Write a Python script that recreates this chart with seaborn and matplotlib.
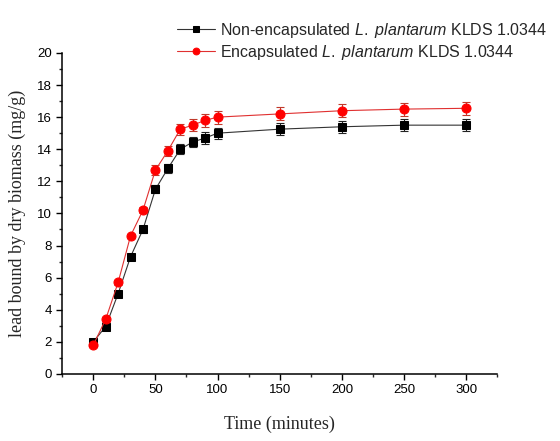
import pandas as pd
import matplotlib
matplotlib.use("Agg")
import matplotlib.pyplot as plt
from matplotlib.ticker import MultipleLocator
import seaborn as sns

# Données
time_min = [0, 10, 20, 30, 40, 50, 60, 70, 80, 90, 100, 150, 200, 250, 300]
non_encap = [2.0, 2.95, 5.0, 7.3, 9.0, 11.5, 12.8, 14.0, 14.45, 14.7, 15.0, 15.25, 15.4, 15.5, 15.5]
non_encap_err = [0.1, 0.1, 0.15, 0.15, 0.2, 0.25, 0.3, 0.3, 0.3, 0.35, 0.35, 0.37, 0.38, 0.38, 0.38]
encap = [1.8, 3.4, 5.7, 8.6, 10.2, 12.7, 13.9, 15.25, 15.5, 15.8, 16.0, 16.2, 16.4, 16.5, 16.55]
encap_err = [0.1, 0.15, 0.15, 0.15, 0.2, 0.3, 0.3, 0.35, 0.38, 0.4, 0.4, 0.4, 0.4, 0.4, 0.42]

label_non = r"Non-encapsulated $\it{L.\ plantarum}$ KLDS 1.0344"
label_enc = r"Encapsulated $\it{L.\ plantarum}$ KLDS 1.0344"

sns.set_style("ticks")
plt.rcParams["font.family"] = ["Liberation Sans", "DejaVu Sans"]
plt.rcParams["mathtext.fontset"] = "custom"
plt.rcParams["mathtext.rm"] = "Liberation Sans"
plt.rcParams["mathtext.it"] = "Liberation Sans:italic"

fig = plt.figure(figsize=(5.6, 4.41), dpi=100)
ax = fig.add_axes([0.111, 0.152, 0.777, 0.728])

df = pd.DataFrame({"time": time_min, "non": non_encap, "enc": encap})

ax.errorbar(time_min, non_encap, yerr=non_encap_err, fmt="none", ecolor="#222222",
            elinewidth=0.8, capsize=3, capthick=0.8, zorder=2)
ax.errorbar(time_min, encap, yerr=encap_err, fmt="none", ecolor="#c0392b",
            elinewidth=0.8, capsize=3, capthick=0.8, zorder=2)

sns.lineplot(data=df, x="time", y="non", ax=ax, color="#333333", linewidth=0.8,
             marker="s", markersize=5.5, markerfacecolor="black", markeredgecolor="black",
             label=label_non, zorder=3)
sns.lineplot(data=df, x="time", y="enc", ax=ax, color="#e03030", linewidth=0.8,
             marker="o", markersize=6.5, markerfacecolor="#ff0000", markeredgecolor="#ff0000",
             label=label_enc, zorder=4)

ax.set_xlim(-25, 325)
ax.set_ylim(0, 20)
ax.xaxis.set_major_locator(MultipleLocator(50))
ax.xaxis.set_minor_locator(MultipleLocator(25))
ax.yaxis.set_major_locator(MultipleLocator(2))
ax.yaxis.set_minor_locator(MultipleLocator(1))
ax.tick_params(which="major", length=4, width=1, labelsize=9.5, colors="black")
ax.tick_params(which="minor", length=2.5, width=1)
sns.despine(ax=ax)
for s in ["left", "bottom"]:
    ax.spines[s].set_linewidth(1.1)
    ax.spines[s].set_color("black")

ax.set_xlabel("Time (minutes)", family="Liberation Serif", fontsize=13, labelpad=14)
ax.set_ylabel("lead bound by dry biomass (mg/g)", family="Liberation Serif", fontsize=13, labelpad=8)

ax.legend(loc="upper right", bbox_to_anchor=(0.988, 0.968), bbox_transform=fig.transFigure,
          frameon=False, fontsize=11.5, handlelength=2.4, handletextpad=0.3, labelspacing=0.2,
          borderaxespad=0, markerscale=0.75)

fig.savefig("out.png", dpi=100)
